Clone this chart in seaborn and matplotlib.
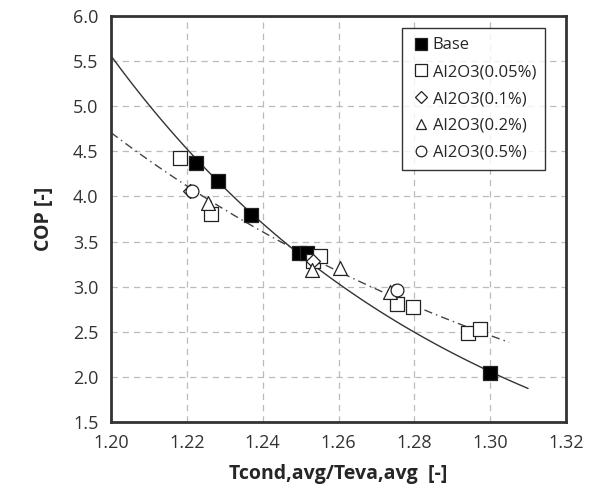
import numpy as np
import pandas as pd
import matplotlib
matplotlib.use("Agg")
import matplotlib.pyplot as plt
import seaborn as sns

# -----------------------------
# Data
# -----------------------------
base_x = [1.2224, 1.2282, 1.2368, 1.2497, 1.2518, 1.3000]
base_y = [4.37, 4.17, 3.79, 3.37, 3.37, 2.04]

al005_x = [1.2182, 1.2263, 1.2534, 1.2550, 1.2753, 1.2797, 1.2942, 1.2974]
al005_y = [4.43, 3.80, 3.28, 3.34, 2.81, 2.77, 2.49, 2.53]

al01_x = [1.2208, 1.2534, 1.2747]
al01_y = [4.06, 3.28, 2.95]

al02_x = [1.2255, 1.2529, 1.2603, 1.2737]
al02_y = [3.93, 3.18, 3.21, 2.94]

al05_x = [1.2213, 1.2753]
al05_y = [4.06, 2.96]

labels = ["Base", "Al2O3(0.05%)", "Al2O3(0.1%)", "Al2O3(0.2%)", "Al2O3(0.5%)"]

x_ticks = [1.20, 1.22, 1.24, 1.26, 1.28, 1.30, 1.32]
y_ticks = [1.5, 2.0, 2.5, 3.0, 3.5, 4.0, 4.5, 5.0, 5.5, 6.0]


def power_fit(xs, ys, x0, x1):
    # Excel style power trendline: y = a * x^b
    b, ln_a = np.polyfit(np.log(xs), np.log(ys), 1)
    xx = np.linspace(x0, x1, 100)
    return pd.DataFrame({"x": xx, "y": np.exp(ln_a) * xx ** b})


nano_x = al005_x + al01_x + al02_x + al05_x
nano_y = al005_y + al01_y + al02_y + al05_y
base_fit = power_fit(base_x, base_y, 1.20, 1.31)
nano_fit = power_fit(nano_x, nano_y, 1.20, 1.305)

# -----------------------------
# Plot
# -----------------------------
sns.set_style("white")
plt.rcParams["font.family"] = ["Open Sans", "DejaVu Sans"]

fig = plt.figure(figsize=(6.02, 4.92), dpi=100)
ax = fig.add_axes([0.1844, 0.1423, 0.7558, 0.8252])

sns.lineplot(data=base_fit, x="x", y="y", ax=ax, color="#333333", lw=1.0)
sns.lineplot(data=nano_fit, x="x", y="y", ax=ax, color="#444444", lw=1.0,
             dashes=False, linestyle=(0, (6, 3, 1, 3)))

series = [
    (base_x, base_y, "s", "black", 100, 9),
    (al005_x, al005_y, "s", "white", 100, 9),
    (al01_x, al01_y, "D", "white", 50, 6.5),
    (al02_x, al02_y, "^", "white", 100, 8.5),
    (al05_x, al05_y, "o", "white", 85, 8.5),
]
handles = []
for (xs, ys, mk, fc, s, ms), lab in zip(series, labels):
    sns.scatterplot(x=xs, y=ys, ax=ax, marker=mk, s=s, color=fc,
                    edgecolor="#222222", linewidth=0.9, zorder=3)
    handles.append(plt.Line2D([], [], marker=mk, ls="none", ms=ms * 0.9,
                              mfc=fc, mec="#222222", mew=0.9, label=lab))

ax.set_xlim(1.20, 1.32)
ax.set_ylim(1.5, 6.0)
ax.set_xticks(x_ticks)
ax.set_xticklabels([f"{t:.2f}" for t in x_ticks])
ax.set_yticks(y_ticks)
ax.set_yticklabels([f"{t:.1f}" for t in y_ticks])
ax.tick_params(labelsize=13, length=0, pad=9, colors="#333333")
ax.grid(True, ls=(0, (5, 4)), color="#bbbbbb", lw=0.9)
ax.set_axisbelow(True)
for sp in ax.spines.values():
    sp.set_color("#333333")
    sp.set_linewidth(2.0)

ax.set_xlabel("Tcond,avg/Teva,avg  [-]", fontsize=14, fontweight="bold", labelpad=8)
ax.set_ylabel("COP [-]", fontsize=14, fontweight="bold", labelpad=14)

leg = ax.legend(handles=handles, loc="upper right", bbox_to_anchor=(0.965, 0.982),
                frameon=True, fancybox=False, fontsize=12, handletextpad=0.1,
                handlelength=1.2, labelspacing=0.65, borderpad=0.55, borderaxespad=0.3)
leg.get_frame().set_edgecolor("black")
leg.get_frame().set_linewidth(1.0)

plt.savefig("out.png", dpi=100)
plt.close()
